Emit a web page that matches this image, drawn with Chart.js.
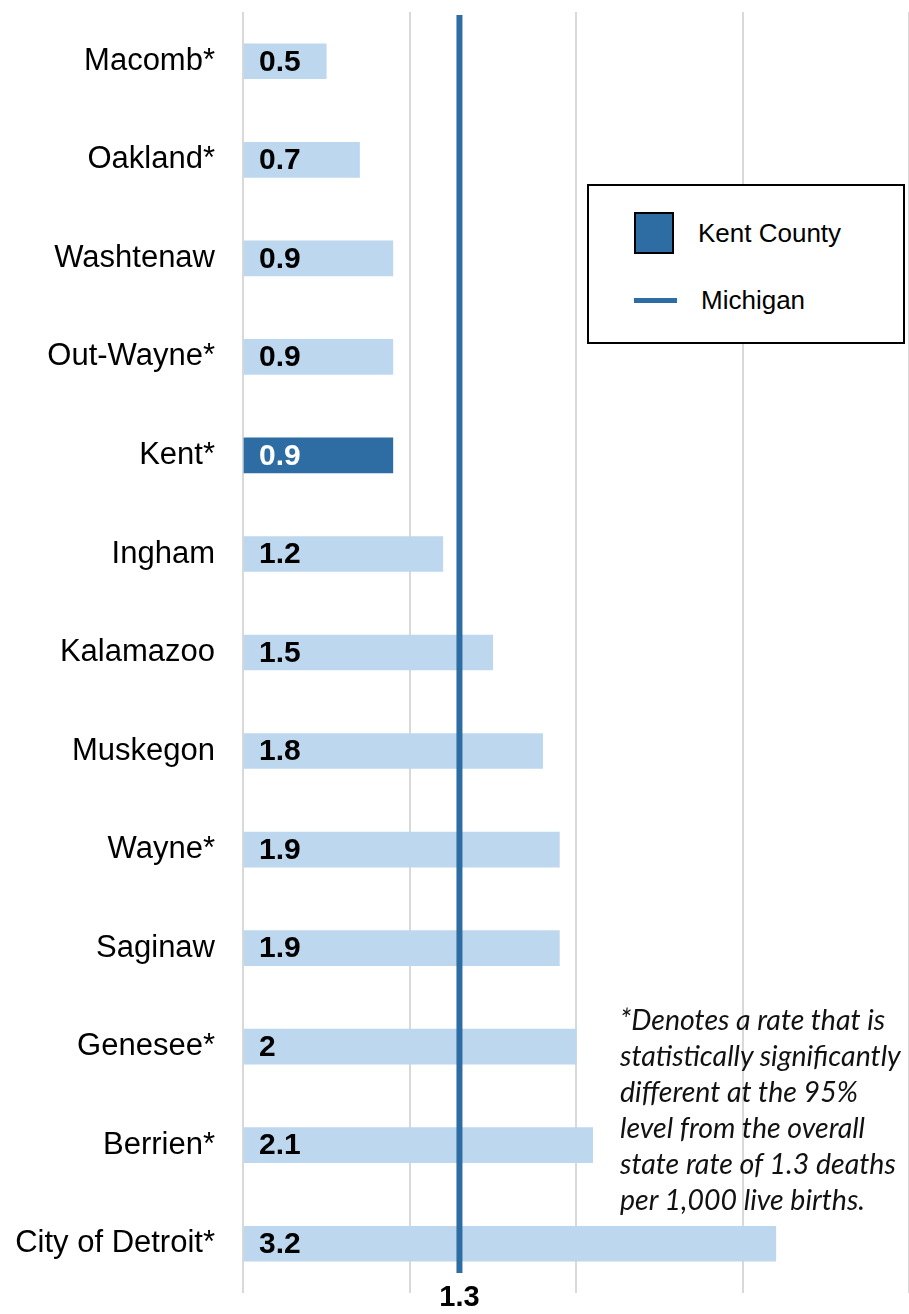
<!DOCTYPE html>
<html>
<head>
<meta charset="utf-8">
<script src="https://cdn.jsdelivr.net/npm/chart.js@4.4.1/dist/chart.umd.min.js"></script>
<style>
  html, body { margin: 0; padding: 0; background: #fff; overflow: hidden; }
  #wrap { position: relative; width: 909px; height: 1314px; }
  #myChart { display: block; }
  #legendBox {
    position: absolute; left: 587px; top: 184px; width: 318px; height: 160px;
    border: 2px solid #000; background: #fff; box-sizing: border-box;
    font-family: "Liberation Sans", Arial, sans-serif; font-size: 26px; color: #000;
  }
  .leg-item { position: absolute; left: 45px; display: flex; align-items: center; }
  .swatch { width: 40px; height: 42px; background: #2e6da4; border: 2px solid #000; box-sizing: border-box; }
  .lineSwatch { width: 43px; height: 5px; background: #2e6da4; }
  .leg-item span { margin-left: 24px; }
  #note {
    position: absolute; left: 620px; top: 1001px; width: 300px;
    font-family: Lato, "Open Sans", sans-serif; font-style: italic; font-size: 28.5px;
    line-height: 36px; color: #111; white-space: nowrap;
  }
</style>
</head>
<body>
<div id="wrap">
  <canvas id="myChart" width="909" height="1314"></canvas>
  <div id="legendBox">
    <div class="leg-item" style="top: 26px;"><div class="swatch"></div><span>Kent County</span></div>
    <div class="leg-item" style="top: 99px;"><div class="lineSwatch"></div><span>Michigan</span></div>
  </div>
  <div id="note">*Denotes a rate that is<br>statistically significantly<br>different at the 95%<br>level from the overall<br>state rate of 1.3 deaths<br>per 1,000 live births.</div>
</div>
<script>
const counties = ['Macomb*', 'Oakland*', 'Washtenaw', 'Out-Wayne*', 'Kent*', 'Ingham', 'Kalamazoo',
    'Muskegon', 'Wayne*', 'Saginaw', 'Genesee*', 'Berrien*', 'City of Detroit*'];
const rates = [0.5, 0.7, 0.9, 0.9, 0.9, 1.2, 1.5, 1.8, 1.9, 1.9, 2, 2.1, 3.2];
const highlightCounty = 'Kent*';
const michiganRate = 1.3;
const gridValues = [0, 1, 2, 3, 4];

const lightBlue = '#bdd7ee';
const darkBlue = '#2e6da4';

// vertical state-rate line + value labels inside the bars
const overlayPlugin = {
    id: 'overlay',
    afterDatasetsDraw(chart) {
        const ctx = chart.ctx;
        const area = chart.chartArea;
        const xs = chart.scales.x;
        const meta = chart.getDatasetMeta(0);

        ctx.save();
        ctx.font = 'bold 30px "Liberation Sans", Arial, sans-serif';
        ctx.textAlign = 'left';
        ctx.textBaseline = 'middle';
        meta.data.forEach((bar, i) => {
            ctx.fillStyle = counties[i] === highlightCounty ? '#fff' : '#000';
            ctx.fillText(String(rates[i]), bar.base + 15, bar.y + 1);
        });

        const lx = xs.getPixelForValue(michiganRate);
        ctx.strokeStyle = darkBlue;
        ctx.lineWidth = 6;
        ctx.beginPath();
        ctx.moveTo(lx, area.top + 3);
        ctx.lineTo(lx, area.bottom - 20);
        ctx.stroke();
        ctx.restore();
    }
};

function generateChart(target) {
    const chart = new Chart(target, {
        type: 'bar',
        data: {
            labels: counties,
            datasets: [{
                label: 'Kent County',
                data: rates,
                backgroundColor: counties.map(c => c === highlightCounty ? darkBlue : lightBlue),
                barThickness: 35,
                borderWidth: 0
            }]
        },
        options: {
            indexAxis: 'y',
            responsive: false,
            animation: false,
            layout: { padding: { top: 12, right: 0, left: 0, bottom: 0 } },
            plugins: {
                legend: { display: false },
                tooltip: { enabled: false }
            },
            scales: {
                x: {
                    min: 0,
                    max: 4,
                    border: { display: false },
                    afterBuildTicks: (scale) => {
                        scale.ticks = gridValues.concat([michiganRate])
                            .sort((a, b) => a - b)
                            .map(v => ({ value: v }));
                    },
                    afterFit: (scale) => {
                        scale.height = 21;
                        scale.paddingLeft = 0;
                        scale.paddingRight = 0;
                    },
                    grid: {
                        drawTicks: false,
                        lineWidth: 2,
                        color: (c) => c.tick && c.tick.value === michiganRate ? 'rgba(0,0,0,0)' : '#d9d9d9'
                    },
                    ticks: {
                        autoSkip: false,
                        maxRotation: 0,
                        mirror: true,   // unclipped, so the label may overlap the plot edge
                        padding: -19.5,
                        color: '#000',
                        font: { family: '"Liberation Sans", Arial, sans-serif', size: 29, weight: 'bold', lineHeight: 1 },
                        callback: (v) => v === michiganRate ? String(michiganRate) : ''
                    }
                },
                y: {
                    border: { display: false },
                    grid: { display: false, drawTicks: false },
                    afterFit: (scale) => {
                        scale.width = 243;
                        scale.paddingTop = 0;
                        scale.paddingBottom = 0;
                    },
                    ticks: {
                        padding: 28,
                        color: '#000',
                        font: { family: '"Liberation Sans", Arial, sans-serif', size: 31 }
                    }
                }
            }
        },
        plugins: [overlayPlugin]
    });
    return chart;
}

document.addEventListener('DOMContentLoaded', () => {
    generateChart(document.querySelector('#myChart'));
});
</script>
</body>
</html>
